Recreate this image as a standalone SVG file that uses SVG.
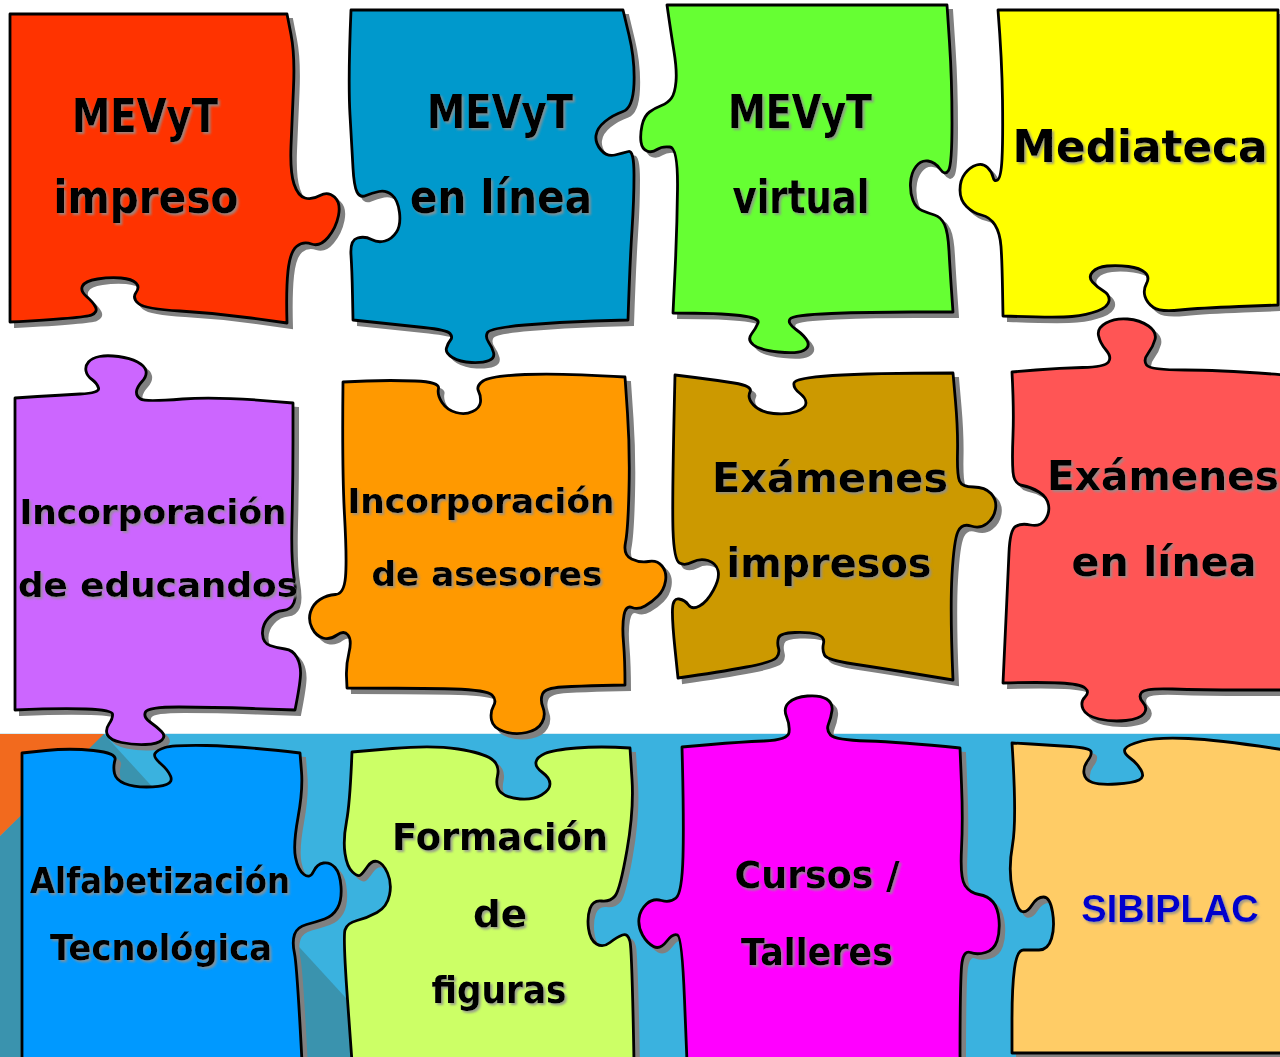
<svg xmlns="http://www.w3.org/2000/svg" xmlns:xlink="http://www.w3.org/1999/xlink" width="1280" height="1057" viewBox="0 0 1280 1057">
<style>
.sh{fill:#808080;stroke:#808080;stroke-width:2}
.pc{stroke:#000;stroke-width:2.8;stroke-linejoin:round}
.t{font-family:"DejaVu Sans","Liberation Sans",sans-serif;font-weight:bold;fill:#000;text-anchor:middle}
.tx{filter:url(#ts)}
</style>
<defs>
<filter id="ts" x="-10%" y="-30%" width="120%" height="160%">
<feDropShadow dx="2" dy="2" stdDeviation="1.3" flood-color="#8f8f8f" flood-opacity="0.85"/>
</filter>
<path id="p1" d="M10,14 L287,14 L291,34.5 Q295,55 293.5,87.5 Q292,120 291,146 Q290,172 294,184 Q298,196 305,198 Q312,200 320,195.5 Q328,191 334.5,197 Q341,203 338.5,215.5 Q336,228 328,237.5 Q320,247 311.5,244 Q303,241 296.5,246.5 Q290,252 288,271 Q286,290 287,323 L251,318 Q215,313 180,311 Q145,309 138.5,303.5 Q132,298 136,292.5 Q140,287 136,283 Q132,279 121,278 Q110,277 97.5,279 Q85,281 82.5,286 Q80,291 86.5,296.5 Q93,302 95.5,307 Q98,312 91.5,315 Q85,318 10,322 Z"/>
<path id="p2" d="M351,10 L623,10 L629,35 Q635,60 634,84 Q633,108 623,111.5 Q613,115 605,121.5 Q597,128 596,135.5 Q595,143 601,150 Q607,157 615,155 Q623,153 628.5,151.5 Q634,150 634,175 Q634,200 632,230 Q630,260 628,320 L594,321 Q560,322 525,325 Q490,328 487.5,332.5 Q485,337 488.5,342 Q492,347 493.5,352.5 Q495,358 489,360.5 Q483,363 471.5,362.5 Q460,362 452.5,357.5 Q445,353 446.5,348 Q448,343 450.5,340 Q453,337 450,333.5 Q447,330 423.5,327.5 Q400,325 353,320 L352.5,295 Q352,270 351,255 Q350,240 357.5,238 Q365,236 371.5,239.5 Q378,243 385,241 Q392,239 396.5,232 Q401,225 399.5,212.5 Q398,200 392,195 Q386,190 379,191.5 Q372,193 366,195.5 Q360,198 357,192 Q354,186 353,168 Q352,150 350,115 Q348,80 351,10 Z"/>
<path id="p3" d="M667,5 L947,5 L949.5,42.5 Q952,80 952,122.5 Q952,165 948.5,170.5 Q945,176 940,169 Q935,162 928,161 Q921,160 916,166.5 Q911,173 910.5,183 Q910,193 913,200.5 Q916,208 922,210.5 Q928,213 934.5,215 Q941,217 944.5,224.5 Q948,232 949,251 Q950,270 953,312 L911.5,312 Q870,312 831.5,313.5 Q793,315 790,319 Q787,323 796,329.5 Q805,336 807.5,341.5 Q810,347 803.5,350.5 Q797,354 778.5,352 Q760,350 753.5,345 Q747,340 751.5,334 Q756,328 758,323 Q760,318 740,315.5 Q720,313 673,313 L675,271.5 Q677,230 677.5,189 Q678,148 670,147 Q662,146 657,149.5 Q652,153 647,151 Q642,149 641,142 Q640,135 642,125.5 Q644,116 649.5,112 Q655,108 661.5,105.5 Q668,103 671.5,98 Q675,93 676,81.5 Q677,70 674,51.5 Q671,33 667,5 Z"/>
<path id="p4" d="M998,10 L1278,10 L1278,305 L1239,306.5 Q1200,308 1180,310 Q1160,312 1153.5,307.5 Q1147,303 1145,296.5 Q1143,290 1146.5,283.5 Q1150,277 1145,272.5 Q1140,268 1128.5,266.5 Q1117,265 1107,266 Q1097,267 1092.5,272 Q1088,277 1092.5,282 Q1097,287 1103.5,291 Q1110,295 1109,301 Q1108,307 1097.5,311 Q1087,315 1072,316.5 Q1057,318 1003,316 L1002.5,288 Q1002,260 1001,246.5 Q1000,233 995,225 Q990,217 981.5,215 Q973,213 966.5,206.5 Q960,200 960,190 Q960,180 965,173.5 Q970,167 976.5,165 Q983,163 987.5,167.5 Q992,172 993,177 Q994,182 997.5,180 Q1001,178 1002,159 Q1003,140 1002.5,100 Q1002,60 998,10 Z"/>
<path id="p5" d="M15,398 L37.5,396.5 Q60,395 80,394 Q100,393 98.5,388 Q97,383 92,379.5 Q87,376 86,371 Q85,366 88.5,362 Q92,358 99.5,356.5 Q107,355 118.5,356.5 Q130,358 137.5,362 Q145,366 146,371 Q147,376 142,381.5 Q137,387 136.5,391.5 Q136,396 140.5,399 Q145,402 182.5,399 Q220,396 293,403 L293,441.5 Q293,480 292,520 Q291,560 294,577.5 Q297,595 294,602.5 Q291,610 283,610.5 Q275,611 268.5,618 Q262,625 262.5,634 Q263,643 270,645.5 Q277,648 285,649 Q293,650 297,657.5 Q301,665 300.5,675 Q300,685 295,710 L252.5,708.5 Q210,707 179,707 Q148,707 145.5,712 Q143,717 150,722 Q157,727 161.5,731.5 Q166,736 162,740 Q158,744 145.5,744.5 Q133,745 121.5,742.5 Q110,740 107.5,735 Q105,730 109,724 Q113,718 112.5,714 Q112,710 86,709 Q60,708 15,710 Z"/>
<path id="p6" d="M343,382 L366.5,381 Q390,380 415,381 Q440,382 438.5,388.5 Q437,395 442,402.5 Q447,410 456,412.5 Q465,415 472.5,411.5 Q480,408 480.5,402 Q481,396 478.5,391 Q476,386 483,381 Q490,376 525,374.5 Q560,373 625,377 L627.5,413.5 Q630,450 629,490 Q628,530 625.5,542.5 Q623,555 631.5,559 Q640,563 648.5,561.5 Q657,560 662,566 Q667,572 665.5,581 Q664,590 658,596 Q652,602 645,606 Q638,610 632,607.5 Q626,605 624,615 Q622,625 623.5,642.5 Q625,660 625,685 L602.5,685.5 Q580,686 562.5,687 Q545,688 542.5,694 Q540,700 543,707.5 Q546,715 542,722.5 Q538,730 526.5,732.5 Q515,735 504,731.5 Q493,728 491.5,720 Q490,712 493.5,706 Q497,700 492,695 Q487,690 453.5,689 Q420,688 347,688 L346.5,676.5 Q346,665 349,652.5 Q352,640 348,635 Q344,630 337,635 Q330,640 323,638 Q316,636 312,628 Q308,620 310.5,612 Q313,604 320,599.5 Q327,595 335.5,594.5 Q344,594 345.5,577 Q347,560 344.5,515 Q342,470 343,382 Z"/>
<path id="p7" d="M675,375 L695,377.5 Q715,380 734,383 Q753,386 750,392 Q747,398 753.5,405 Q760,412 773.5,413.5 Q787,415 796.5,411.5 Q806,408 806,403 Q806,398 799.5,393 Q793,388 794,383 Q795,378 832.5,375.5 Q870,373 953,373 L955.5,401.5 Q958,430 957.5,452.5 Q957,475 959.5,481 Q962,487 973.5,487 Q985,487 991,493.5 Q997,500 995.5,509 Q994,518 987,523.5 Q980,529 971,526 Q962,523 958,531.5 Q954,540 952,575 Q950,610 953,680 L916.5,674 Q880,668 853.5,664 Q827,660 824.5,655 Q822,650 823.5,643.5 Q825,637 817.5,634.5 Q810,632 795,632.5 Q780,633 778.5,638 Q777,643 778.5,648 Q780,653 776.5,657.5 Q773,662 746.5,667 Q720,672 678,678 L675,649 Q672,620 672.5,609 Q673,598 679,599 Q685,600 688.5,605 Q692,610 699.5,606 Q707,602 713.5,590 Q720,578 718,570.5 Q716,563 708,560.5 Q700,558 692.5,562 Q685,566 679.5,563 Q674,560 673,530 Q672,500 675,375 Z"/>
<path id="p8" d="M1012,372 L1036,370 Q1060,368 1082.5,367.5 Q1105,367 1108.5,362 Q1112,357 1106,350 Q1100,343 1098.5,335.5 Q1097,328 1106,323 Q1115,318 1127.5,319 Q1140,320 1148.5,326 Q1157,332 1155,339.5 Q1153,347 1148,353.5 Q1143,360 1146.5,365 Q1150,370 1185,370 Q1220,370 1285,375 L1285,690 L1242.5,690 Q1200,690 1172.5,689 Q1145,688 1141.5,692.5 Q1138,697 1143,702.5 Q1148,708 1144,713.5 Q1140,719 1126,720.5 Q1112,722 1099,719 Q1086,716 1083,709 Q1080,702 1085,697 Q1090,692 1085,688 Q1080,684 1060,683 Q1040,682 1003,683 L1004,661.5 Q1005,640 1006.5,607.5 Q1008,575 1009,552.5 Q1010,530 1015.5,526.5 Q1021,523 1030.5,525 Q1040,527 1045,520 Q1050,513 1048.5,505 Q1047,497 1039,492 Q1031,487 1022.5,485.5 Q1014,484 1013,472 Q1012,460 1013,435 Q1014,410 1012,372 Z"/>
<path id="p9" d="M22,753 L46,750.5 Q70,748 93.5,750.5 Q117,753 115,760 Q113,767 114.5,773.5 Q116,780 124.5,783.5 Q133,787 146.5,787 Q160,787 166.5,784.5 Q173,782 170.5,776 Q168,770 160.5,763.5 Q153,757 155,753.5 Q157,750 165,747.5 Q173,745 206.5,745.5 Q240,746 300,753 L301.5,771.5 Q303,790 298,817.5 Q293,845 295.5,857.5 Q298,870 304,874.5 Q310,879 313.5,871.5 Q317,864 323.5,863 Q330,862 335,867.5 Q340,873 341,886.5 Q342,900 337.5,908 Q333,916 324.5,919 Q316,922 306.5,924.5 Q297,927 294.5,934.5 Q292,942 294.5,953.5 Q297,965 302,1062 L22,1062 Z"/>
<path id="p10" d="M352,752 L392.5,748.5 Q433,745 458,749 Q483,753 491.5,759 Q500,765 497.5,776 Q495,787 501,792.5 Q507,798 520,799 Q533,800 541.5,795 Q550,790 550,784 Q550,778 542.5,772.5 Q535,767 536,762 Q537,757 545,753.5 Q553,750 576.5,748 Q600,746 630,748 L632,779 Q634,810 627,850 Q620,890 615,896 Q610,902 601.5,901 Q593,900 590,908.5 Q587,917 588.5,928.5 Q590,940 596.5,944 Q603,948 610,942.5 Q617,937 622.5,935 Q628,933 630,941.5 Q632,950 634,1062 L352,1062 L347.5,999.5 Q343,937 345,930 Q347,923 357,920.5 Q367,918 377,912.5 Q387,907 389.5,895 Q392,883 387.5,873 Q383,863 377.5,861.5 Q372,860 367.5,866.5 Q363,873 360.5,875 Q358,877 352.5,872 Q347,867 345,853.5 Q343,840 346.5,821.5 Q350,803 352,752 Z"/>
<path id="p11" d="M682,747 L711,744.5 Q740,742 764,741 Q788,740 789,732.5 Q790,725 786.5,716.5 Q783,708 789,702.5 Q795,697 807.5,696 Q820,695 826.5,699 Q833,703 832,710.5 Q831,718 828.5,724 Q826,730 830.5,735 Q835,740 867.5,741 Q900,742 960,748 L961.5,784 Q963,820 961.5,849 Q960,878 965,885.5 Q970,893 979,894.5 Q988,896 993,902 Q998,908 999,920 Q1000,932 997,941 Q994,950 985.5,952.5 Q977,955 970.5,952.5 Q964,950 962,962.5 Q960,975 960,1062 L687,1062 L684.5,999.5 Q682,937 677.5,935 Q673,933 666.5,941.5 Q660,950 653.5,946.5 Q647,943 642.5,935 Q638,927 639,918.5 Q640,910 646.5,904 Q653,898 661.5,900.5 Q670,903 676,898 Q682,893 683,856.5 Q684,820 682,747 Z"/>
<path id="p12" d="M1012,743 L1031,744 Q1050,745 1070,746.5 Q1090,748 1091,751.5 Q1092,755 1087.5,761 Q1083,767 1084,773.5 Q1085,780 1092.5,782.5 Q1100,785 1116.5,784 Q1133,783 1139,780 Q1145,777 1141,770 Q1137,763 1130,758 Q1123,753 1125,749 Q1127,745 1142,741 Q1157,737 1188.5,738.5 Q1220,740 1285,750 L1285,1053 L1012,1053 L1012,1020 Q1012,987 1014.5,968.5 Q1017,950 1023.5,950 Q1030,950 1039,950 Q1048,950 1051.5,938.5 Q1055,927 1052.5,912 Q1050,897 1043.5,897 Q1037,897 1032,905 Q1027,913 1022,911.5 Q1017,910 1012.5,890 Q1008,870 1012.5,845 Q1017,820 1012,743 Z"/>
</defs>

<g id="background">
<rect x="0" y="0" width="1280" height="1057" fill="#ffffff"/>
<rect x="0" y="733" width="1280" height="324" fill="#3AB2DF"/>
<polygon points="0,836 103,733 400,1057 0,1057" fill="#3A93AE"/>
<polygon points="0,733 105,733 0,836" fill="#F26A1E"/>
<line x1="0" y1="733.5" x2="1280" y2="733.5" stroke="#d6ecf4" stroke-width="1"/>
</g>

<g id="connectors"></g>

<g id="node-mevyt-impreso">
<use href="#p1" class="sh" transform="translate(5,5)"/>
<use href="#p1" class="pc" fill="#FF3300"/>
<g class="tx">
<text class="t" x="145" y="132" font-size="46" textLength="146" lengthAdjust="spacingAndGlyphs">MEVyT</text>
<text class="t" x="146" y="213" font-size="47" textLength="185" lengthAdjust="spacingAndGlyphs">impreso</text>
</g>
</g>

<g id="node-mevyt-en-linea">
<use href="#p2" class="sh" transform="translate(5,5)"/>
<use href="#p2" class="pc" fill="#0099CC"/>
<g class="tx">
<text class="t" x="500" y="128" font-size="46" textLength="146" lengthAdjust="spacingAndGlyphs">MEVyT</text>
<text class="t" x="501" y="213" font-size="47" textLength="182" lengthAdjust="spacingAndGlyphs">en línea</text>
</g>
</g>

<g id="node-mevyt-virtual">
<use href="#p3" class="sh" transform="translate(5,5)"/>
<use href="#p3" class="pc" fill="#66FF33"/>
<g class="tx">
<text class="t" x="800" y="128" font-size="46" textLength="144" lengthAdjust="spacingAndGlyphs">MEVyT</text>
<text class="t" x="801" y="213" font-size="47" textLength="137" lengthAdjust="spacingAndGlyphs">virtual</text>
</g>
</g>

<g id="node-mediateca">
<use href="#p4" class="sh" transform="translate(5,5)"/>
<use href="#p4" class="pc" fill="#FFFF00"/>
<g class="tx">
<text class="t" x="1140" y="162" font-size="45" textLength="255" lengthAdjust="spacingAndGlyphs">Mediateca</text>
</g>
</g>

<g id="node-incorporacion-educandos">
<use href="#p5" class="sh" transform="translate(5,5)"/>
<use href="#p5" class="pc" fill="#CC66FF"/>
<g class="tx">
<text class="t" x="153" y="524" font-size="33" textLength="267" lengthAdjust="spacingAndGlyphs">Incorporación</text>
<text class="t" x="158" y="597" font-size="33" textLength="280" lengthAdjust="spacingAndGlyphs">de educandos</text>
</g>
</g>

<g id="node-incorporacion-asesores">
<use href="#p6" class="sh" transform="translate(5,5)"/>
<use href="#p6" class="pc" fill="#FF9900"/>
<g class="tx">
<text class="t" x="481" y="513" font-size="33" textLength="267" lengthAdjust="spacingAndGlyphs">Incorporación</text>
<text class="t" x="487" y="586" font-size="33" textLength="231" lengthAdjust="spacingAndGlyphs">de asesores</text>
</g>
</g>

<g id="node-examenes-impresos">
<use href="#p7" class="sh" transform="translate(5,5)"/>
<use href="#p7" class="pc" fill="#CC9900"/>
<g class="tx">
<text class="t" x="830" y="492" font-size="41" textLength="236" lengthAdjust="spacingAndGlyphs">Exámenes</text>
<text class="t" x="829" y="577" font-size="41" textLength="205" lengthAdjust="spacingAndGlyphs">impresos</text>
</g>
</g>

<g id="node-examenes-en-linea">
<use href="#p8" class="sh" transform="translate(5,5)"/>
<use href="#p8" class="pc" fill="#FF5555"/>
<g class="tx">
<text class="t" x="1163" y="490" font-size="41" textLength="232" lengthAdjust="spacingAndGlyphs">Exámenes</text>
<text class="t" x="1164" y="576" font-size="41" textLength="185" lengthAdjust="spacingAndGlyphs">en línea</text>
</g>
</g>

<g id="node-alfabetizacion">
<use href="#p9" class="sh" transform="translate(5,5)"/>
<use href="#p9" class="pc" fill="#0099FF"/>
<g class="tx">
<text class="t" x="160" y="893" font-size="35" textLength="260" lengthAdjust="spacingAndGlyphs">Alfabetización</text>
<text class="t" x="161" y="960" font-size="35" textLength="222" lengthAdjust="spacingAndGlyphs">Tecnológica</text>
</g>
</g>

<g id="node-formacion">
<use href="#p10" class="sh" transform="translate(5,5)"/>
<use href="#p10" class="pc" fill="#CCFF66"/>
<g class="tx">
<text class="t" x="500" y="850" font-size="38" textLength="216" lengthAdjust="spacingAndGlyphs">Formación</text>
<text class="t" x="500" y="927" font-size="38" textLength="54" lengthAdjust="spacingAndGlyphs">de</text>
<text class="t" x="499" y="1003" font-size="38" textLength="135" lengthAdjust="spacingAndGlyphs">figuras</text>
</g>
</g>

<g id="node-cursos">
<use href="#p11" class="sh" transform="translate(5,5)"/>
<use href="#p11" class="pc" fill="#FF00FF"/>
<g class="tx">
<text class="t" x="817" y="888" font-size="38" textLength="165" lengthAdjust="spacingAndGlyphs">Cursos /</text>
<text class="t" x="817" y="965" font-size="38" textLength="152" lengthAdjust="spacingAndGlyphs">Talleres</text>
</g>
</g>

<g id="node-sibiplac">
<use href="#p12" class="sh" transform="translate(5,5)"/>
<use href="#p12" class="pc" fill="#FFCC66"/>
<g class="tx">
<text x="1170" y="922" font-family="'Liberation Sans', Arial, sans-serif" font-weight="bold" font-size="38" text-anchor="middle" fill="#0000CC">SIBIPLAC</text>
</g>
</g>
</svg>
